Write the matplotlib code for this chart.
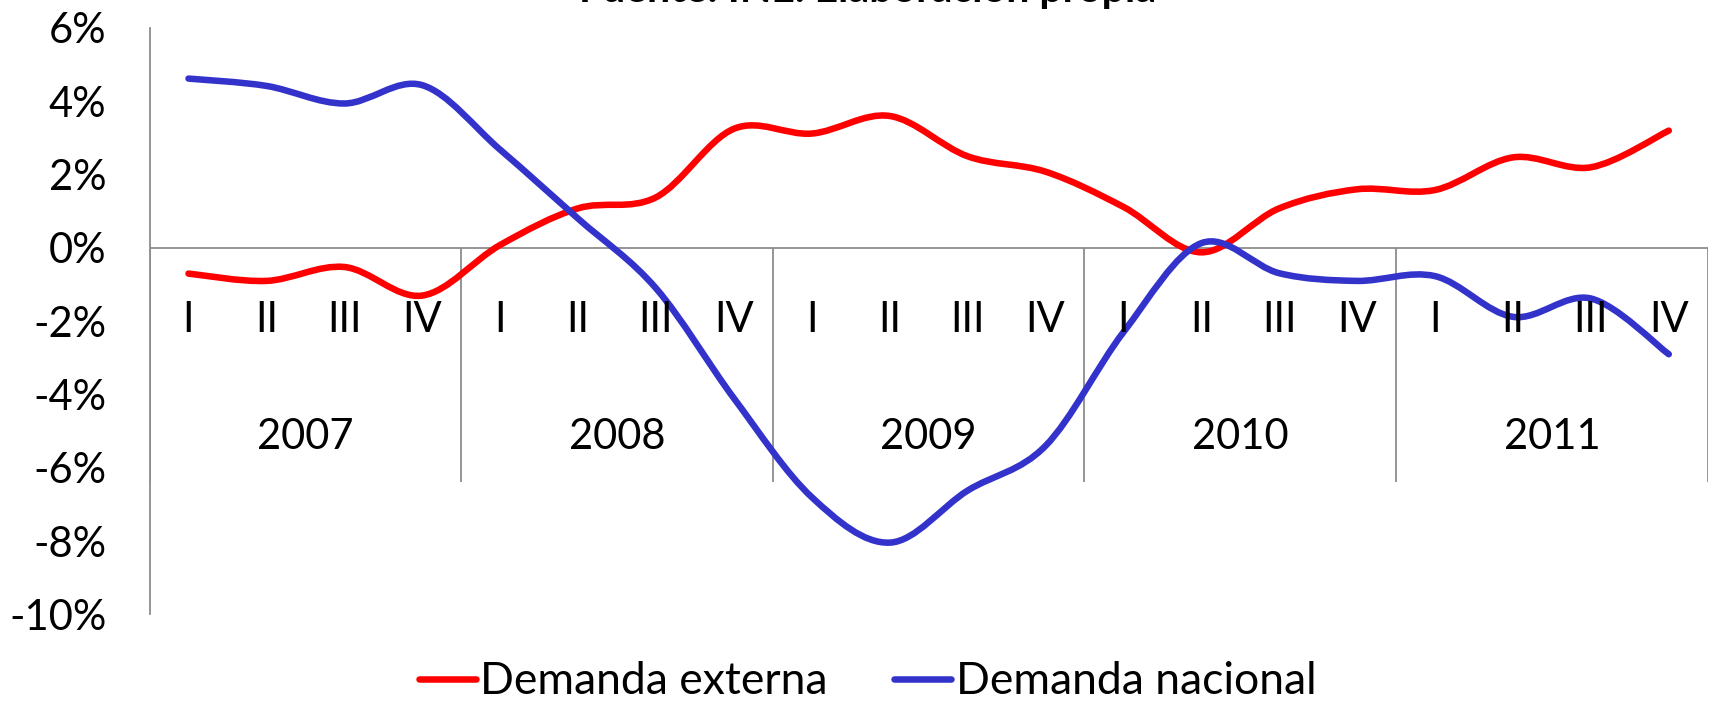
import matplotlib
matplotlib.use("Agg")
import matplotlib.pyplot as plt
import numpy as np
from matplotlib.path import Path
from matplotlib.patches import PathPatch
from matplotlib.lines import Line2D

# datos (variación, %)
years = ["2007", "2008", "2009", "2010", "2011"]
quarters = ["I", "II", "III", "IV"]
demanda_externa = [-0.7, -0.9, -0.52, -1.3, 0.08, 1.08, 1.38, 3.25,
                   3.12, 3.6, 2.5, 2.08, 1.12, -0.12, 1.08, 1.6,
                   1.58, 2.47, 2.2, 3.2]
demanda_nacional = [4.62, 4.42, 3.94, 4.44, 2.68, 0.8, -1.1, -4.1,
                    -6.8, -8.04, -6.62, -5.4, -2.3, 0.13, -0.69, -0.9,
                    -0.77, -1.88, -1.38, -2.9]
yticks = list(range(-10, 7, 2))

RED = "#FF0000"
BLUE = "#3333CC"
GRAY = "#8C8C8C"

plt.rcParams["font.family"] = ["Lato", "DejaVu Sans"]


def smooth_path(y):
    # curva suavizada tipo Excel (Catmull-Rom en Bezier)
    p = np.column_stack([np.arange(len(y)), y]).astype(float)
    ext = np.vstack([p[0], p, p[-1]])
    verts = [p[0]]
    codes = [Path.MOVETO]
    for i in range(len(p) - 1):
        p0, p1, p2, p3 = ext[i], ext[i + 1], ext[i + 2], ext[i + 3]
        verts += [p1 + (p2 - p0) / 6, p2 - (p3 - p1) / 6, p2]
        codes += [Path.CURVE4] * 3
    return Path(verts, codes)


fig = plt.figure(figsize=(17.11, 7.05), dpi=100)
ax = fig.add_axes([0.0874, 0.1284, 0.9107, 0.8319])

for serie, color in [(demanda_externa, RED), (demanda_nacional, BLUE)]:
    ax.add_patch(PathPatch(smooth_path(serie), fill=False, edgecolor=color,
                           lw=4.7, capstyle="round", joinstyle="round", zorder=3))

n = len(demanda_externa)
ax.set_xlim(-0.5, n - 0.5)
ax.set_ylim(-10, 6)

for s in ["top", "right", "bottom"]:
    ax.spines[s].set_visible(False)
ax.spines["left"].set_color(GRAY)
ax.spines["left"].set_linewidth(1.3)

ax.axhline(0, color=GRAY, lw=1.3, zorder=1)
ax.vlines(np.arange(-0.5, n, 4), -6.38, 0, color=GRAY, lw=1.3, zorder=1)

ax.set_xticks([])
ax.set_yticks(yticks)
ax.set_yticklabels([f"{v}%" for v in yticks], fontsize=30)
ax.tick_params(axis="y", length=0, pad=31)

for i in range(n):
    ax.text(i, -1.97, quarters[i % 4], ha="center", va="center", fontsize=30)
for k, yr in enumerate(years):
    ax.text(4 * k + 1.5, -5.16, yr, ha="center", va="center", fontsize=30)

# título recortado por el borde superior, como en el original
fig.text(0.507, 0.9975, "Fuente: INE. Elaboración propia", ha="center",
         va="baseline", fontsize=29.5, fontweight="bold")

handles = [Line2D([], [], color=RED, lw=4.7, solid_capstyle="round"),
           Line2D([], [], color=BLUE, lw=4.7, solid_capstyle="round")]
fig.legend(handles, ["Demanda externa", "Demanda nacional"], loc="center",
           bbox_to_anchor=(0.507, 0.033), ncol=2, frameon=False, fontsize=32,
           handlelength=1.28, handletextpad=0.1, columnspacing=1.5)

fig.savefig("out.png", dpi=100)
